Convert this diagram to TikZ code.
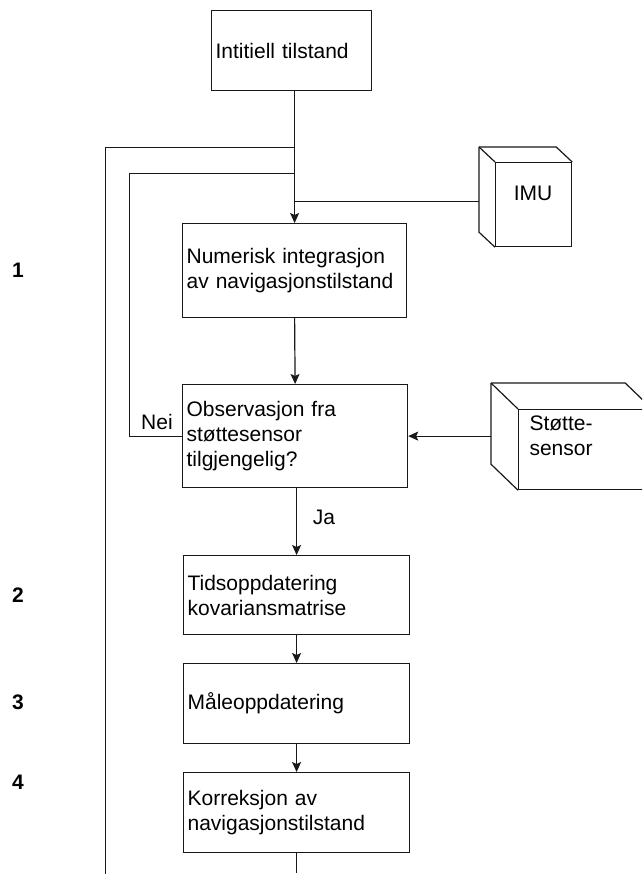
\documentclass[tikz,border=0pt]{standalone}
\usepackage{fontspec}
\setmainfont{Liberation Sans}
\usetikzlibrary{positioning,arrows.meta,calc}
\tikzset{
  flowbox/.style={draw=black!90, line width=1.2pt, fill=white, inner xsep=4pt,
    inner ysep=2pt, align=left, anchor=north west},
  cubeface/.style={draw=black!90, line width=1.2pt, fill=white, inner sep=0pt,
    anchor=north west}}

\begin{document}
\begin{tikzpicture}[x=1pt, y=-1pt, font=\fontsize{21}{25}\selectfont,
      line/.style={draw=black!90, line width=1.2pt},
      arr/.style={line, -{Stealth[length=10pt, width=9pt, inset=2pt]}},
      numlbl/.style={font=\fontsize{21}{25}\selectfont\bfseries}]
      \fill[white] (0,0) rectangle (642,874);
      \path[use as bounding box] (0,0) rectangle (642,874);
      \clip (0,0) rectangle (642,874);
      % flow boxes
      \node[flowbox, text width=152pt, minimum height=80pt] (init) at (211,10) {Intitiell tilstand};
      \node[flowbox, text width=216pt, minimum height=94pt] (integ) at (182,223)
        {Numerisk integrasjon\\av navigasjonstilstand};
      \node[flowbox, text width=217pt, minimum height=103pt] (obs) at (182,384)
        {Observasjon fra\\støttesensor\\tilgjengelig?};
      \node[flowbox, text width=218pt, minimum height=79pt] (tidsopp) at (183,555)
        {Tidsoppdatering\\kovariansmatrise};
      \node[flowbox, text width=218pt, minimum height=80pt] (maaleopp) at (183,663) {Måleoppdatering};
      \node[flowbox, text width=218pt, minimum height=80pt] (korr) at (183,772)
        {Korreksjon av\\navigasjonstilstand};
      % sensors (cubes)
      \node[cubeface, minimum width=76pt, minimum height=84pt] (imu) at (495,162) {};
      \draw[line] ($(imu.north west)+(-16,-15)$) -- ($(imu.south west)+(-16,-15)$) -- (imu.south west);
      \draw[line] ($(imu.north west)+(-16,-15)$) -- (imu.north west);
      \draw[line] ($(imu.north west)+(-16,-15)$) -- ($(imu.north east)+(-16,-15)$) -- (imu.north east);
      \node (imutxt) at (533,193) {IMU};
      \node[cubeface, minimum width=133pt, minimum height=80pt] (stotte) at (518,409) {};
      \draw[line] ($(stotte.north west)+(-27,-26)$) -- ($(stotte.south west)+(-27,-26)$) -- (stotte.south west);
      \draw[line] ($(stotte.north west)+(-27,-26)$) -- (stotte.north west);
      \draw[line] ($(stotte.north west)+(-27,-26)$) -- ($(stotte.north east)+(-27,-26)$) -- (stotte.north east);
      \node[align=left, anchor=west] (stottetxt) at (526,436) {Støtte-\\sensor};
      \coordinate (imuleft) at ($(imu.west)+(-16,-3)$);
      \coordinate (stotteleft) at ($(stotte.west)+(-27,0)$);
      % connectors
      \coordinate (outerjoin) at (294.3,147.3);
      \coordinate (innerjoin) at (294.3,173.3);
      \coordinate (outerend) at (105.3,890);
      \coordinate (korrend) at ($(korr.south)+(0,20)$);
      \draw[arr] (init.south -| integ.north) -- (integ.north);
      \draw[line] (imuleft) -- (imuleft -| integ.north);
      \draw[arr] (integ.south) -- (obs.north);
      \draw[arr] (obs.east -| stotteleft) -- (obs.east);
      \draw[line] (obs.west) -| (129.3,173.3) -- (innerjoin);
      \draw[line] (outerend) |- (outerjoin);
      \draw[arr] (obs.south -| tidsopp.north) -- (tidsopp.north);
      \draw[arr] (tidsopp.south) -- (maaleopp.north);
      \draw[arr] (maaleopp.south) -- (korr.north);
      \draw[line] (korr.south) -- (korrend);
      % labels
      \node (nei) at (157,422) {Nei};
      \node (ja) at (324,517) {Ja};
      \node[numlbl] (n1) at (18,270) {1};
      \node[numlbl] (n2) at (18,595) {2};
      \node[numlbl] (n3) at (18,702) {3};
      \node[numlbl] (n4) at (18,782) {4};
    \end{tikzpicture}
\end{document}
